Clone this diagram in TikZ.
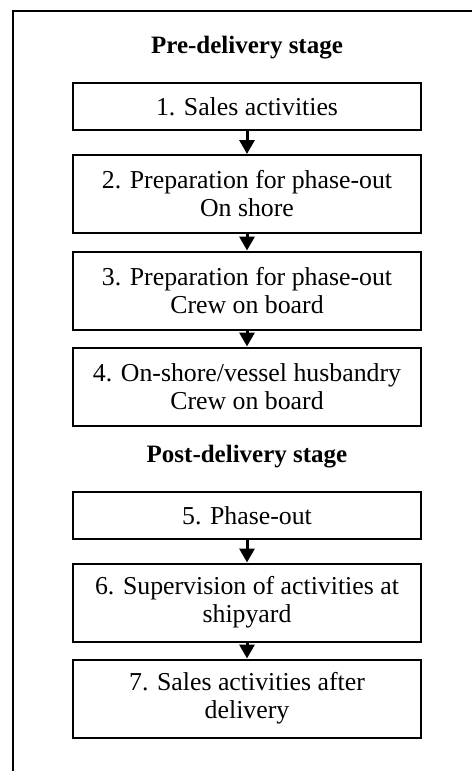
\documentclass[tikz,border=0pt]{standalone}
\usepackage{fontspec}
\setmainfont{Liberation Serif}
\usetikzlibrary{arrows.meta}
\tikzset{stagebox/.style={draw, line width=1pt, minimum width=174pt, inner sep=0pt, align=center, font=\fontsize{12.9}{14}\selectfont}}
\tikzset{shortbox/.style={stagebox, minimum height=23.5pt}}
\tikzset{tallbox/.style={stagebox, minimum height=39pt}}
\tikzset{stagetitle/.style={font=\bfseries\fontsize{12.5}{14}\selectfont}}
\tikzset{flow/.style={-{Triangle[width=7.5pt, length=7pt]}, line width=1.5pt}}

\begin{document}
\begin{tikzpicture}[x=0.5pt, y=-0.5pt]
    \useasboundingbox (0, 0) rectangle (472, 771);
    \draw[line width=1pt] (472, 11) -- (13, 11) -- (13, 771);
    \node[stagetitle] (pre) at (247, 48) {Pre-delivery stage};
    \node[shortbox] (sales) at (247, 106.5) {1. Sales activities};
    \node[tallbox] (prepshore) at (247, 194) {2. Preparation for phase-out\\On shore};
    \node[tallbox] (prepcrew) at (247, 290.5) {3. Preparation for phase-out\\Crew on board};
    \node[tallbox] (husbandry) at (247, 386.5) {4. On-shore/vessel husbandry\\Crew on board};
    \node[stagetitle] (post) at (247, 457) {Post-delivery stage};
    \node[shortbox] (phaseout) at (247, 515.5) {5. Phase-out};
    \node[tallbox] (supervision) at (247, 602.5) {6. Supervision of activities at\\shipyard};
    \node[tallbox] (aftersales) at (247, 698.5) {7. Sales activities after\\delivery};
    \foreach \from/\to in {sales/prepshore, prepshore/prepcrew, prepcrew/husbandry, phaseout/supervision, supervision/aftersales} {
        \draw[flow] (\from) -- (\to);
    }
\end{tikzpicture}
\end{document}
